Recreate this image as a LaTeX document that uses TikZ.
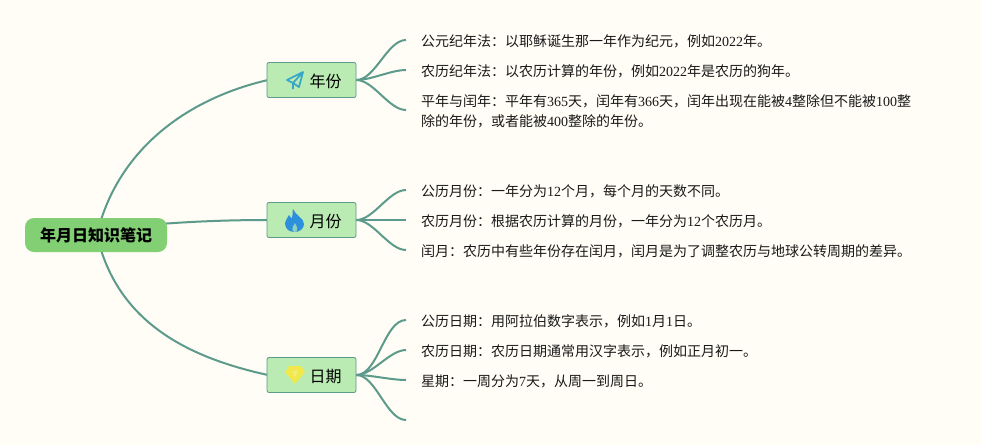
\documentclass[tikz,border=0pt]{standalone}
\usepackage{xcolor}
\usepackage{fontspec}
\setmainfont{Noto Sans CJK SC}
\newfontfamily\latn{Liberation Serif}
\newcommand{\nm}[1]{{\latn #1}}
\newcommand{\topiclabel}[1]{\hspace{28pt}#1}
\definecolor{paper}{HTML}{FFFDF5}
\definecolor{linkc}{HTML}{5C9A8B}
\definecolor{rootc}{HTML}{82CF74}
\definecolor{topicc}{HTML}{B9EBB2}
\definecolor{planec}{HTML}{38A6C8}
\definecolor{flamec}{HTML}{2E90DA}
\definecolor{gemc}{HTML}{F0E84C}
\tikzset{
  rootbox/.style={fill=rootc,rounded corners=9pt,minimum width=142pt,minimum height=34pt,inner sep=0pt,font=\fontsize{16}{20}\selectfont\bfseries},
  topicbox/.style={draw=linkc,fill=topicc,rounded corners=2pt,line width=.8pt,minimum width=89pt,minimum height=35pt,inner sep=0pt,text height=15pt,text depth=0pt,font=\fontsize{16}{20}\selectfont},
  leaftext/.style={anchor=west,inner sep=0pt,font=\fontsize{14}{20}\selectfont,text=black!90},
  link/.style={draw=linkc,line width=2pt},
}
\begin{document}
\begin{tikzpicture}[x=1pt,y=-1pt]
        \useasboundingbox[fill=paper] (0,0) rectangle (981,445);

        % draw root branches
        \coordinate (ra) at (101,220);
        \coordinate (rb) at (160,224);
        \coordinate (rc) at (101,250);
        \coordinate (ya) at (268,80);
        \coordinate (ma) at (268,220);
        \coordinate (da) at (268,375);
        \draw[link] (ra) .. controls (125,145) and (190,98) .. (ya);
        \draw[link] (rb) .. controls (200,221) and (235,220) .. (ma);
        \draw[link] (rc) .. controls (125,325) and (190,358) .. (da);

        % draw main nodes
        \node[rootbox] (root) at (96,235) {年月日知识笔记};
        \node[topicbox] (year) at (311.5,80) {\topiclabel{年份}};
        \node[topicbox] (month) at (311.5,220) {\topiclabel{月份}};
        \node[topicbox] (day) at (311.5,375) {\topiclabel{日期}};

        % draw free ends of the branches
        \foreach \n/\y in {y1/40,y2/70,y3/110,m1/190,m2/220,m3/250,d1/320,d2/350,d3/380,d4/420}
          \coordinate (\n) at (406,\y);

        % draw leaf branches
        \foreach \n in {y1,y2,y3}
          \draw[link] (year.east) to[out=0,in=180,looseness=.75] (\n);
        \foreach \n in {m1,m2,m3}
          \draw[link] (month.east) to[out=0,in=180,looseness=.75] (\n);
        \foreach \n in {d1,d2,d3,d4}
          \draw[link] (day.east) to[out=0,in=180,looseness=.75] (\n);

        % draw icons
        \draw[line width=1.7pt,draw=planec,line join=round] (303,72) -- (287,80) -- (293,83) -- (299,87) -- cycle (303,72) -- (293,83) -- (293,89);
        \fill[flamec] (293,209) .. controls (295,215) and (304,218) .. (304,224) .. controls (304,229) and (299,232) .. (295,232) .. controls (289,232) and (285,229) .. (285,223) .. controls (285,220) and (288,218) .. (289,215) .. controls (290,217) and (291,218) .. (292,218) .. controls (293,216) and (292,213) .. (293,209) -- cycle;
        \fill[topicc!70!flamec] (295,232) .. controls (292,232) and (291,228) .. (295,223) .. controls (298,228) and (298,232) .. (295,232) -- cycle;
        \fill[gemc] (289,366) -- (301,366) -- (305,372) -- (295,384) -- (285,372) -- cycle;
        \fill[gemc!75!white] (292,371) -- (298,371) -- (295,377) -- cycle;

        % draw leaf texts
        \node[leaftext] (yt1) at (421,41) {公元纪年法：以耶稣诞生那一年作为纪元，例如\nm{2022}年。};
        \node[leaftext] (yt2) at (421,71) {农历纪年法：以农历计算的年份，例如\nm{2022}年是农历的狗年。};
        \node[leaftext] (yt3) at (421,101) {平年与闰年：平年有\nm{365}天，闰年有\nm{366}天，闰年出现在能被\nm{4}整除但不能被\nm{100}整};
        \node[leaftext] (yt4) at (421,121) {除的年份，或者能被\nm{400}整除的年份。};
        \node[leaftext] (mt1) at (421,191) {公历月份：一年分为\nm{12}个月，每个月的天数不同。};
        \node[leaftext] (mt2) at (421,221) {农历月份：根据农历计算的月份，一年分为\nm{12}个农历月。};
        \node[leaftext] (mt3) at (421,251) {闰月：农历中有些年份存在闰月，闰月是为了调整农历与地球公转周期的差异。};
        \node[leaftext] (dt1) at (421,321) {公历日期：用阿拉伯数字表示，例如\nm{1}月\nm{1}日。};
        \node[leaftext] (dt2) at (421,351) {农历日期：农历日期通常用汉字表示，例如正月初一。};
        \node[leaftext] (dt3) at (421,381) {星期：一周分为\nm{7}天，从周一到周日。};
\end{tikzpicture}
\end{document}
